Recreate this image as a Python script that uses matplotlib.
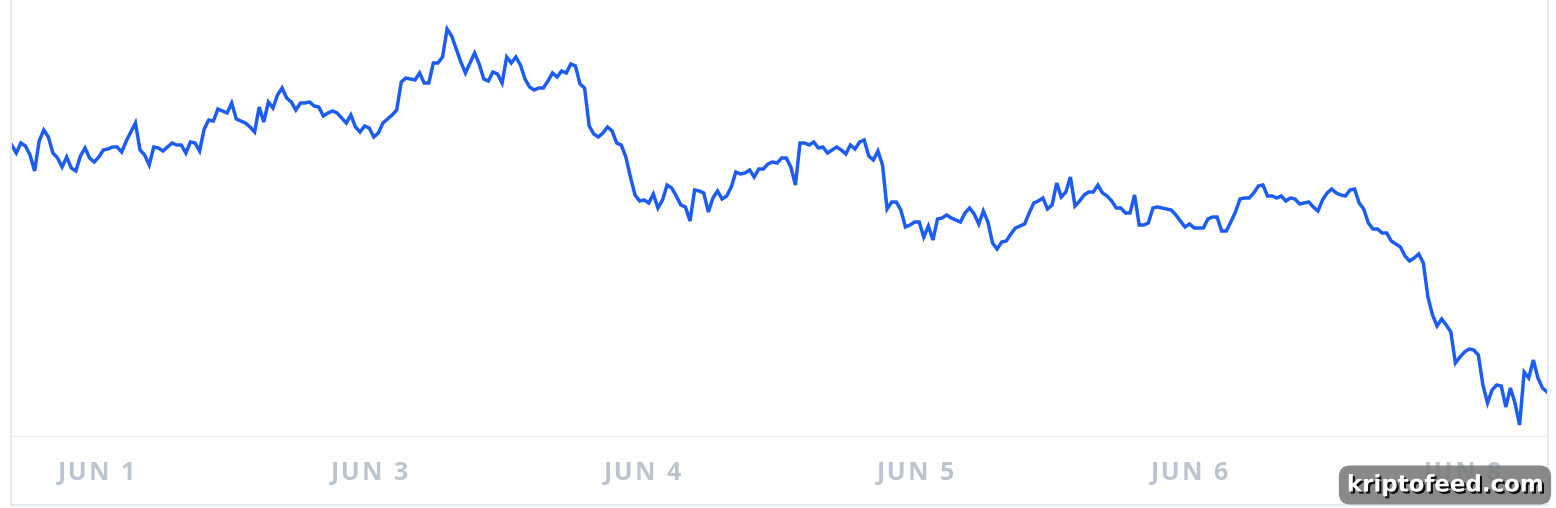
import numpy as np
import matplotlib
matplotlib.use("Agg")
import matplotlib.pyplot as plt
import matplotlib.patheffects as pe

# prezzo (unita' relative), un punto ogni intervallo
prezzo = [
    292, 284, 294, 291, 282, 266, 296, 307, 300, 284, 279, 270, 280, 269, 266, 281,
    289, 279, 275, 280, 287, 288, 290, 290, 285, 296, 305, 314, 287, 282, 272, 290,
    289, 286, 290, 294, 292, 292, 284, 295, 294, 286, 308, 317, 316, 328, 326, 324,
    334, 318, 316, 314, 310, 305, 330, 315,
    335, 329, 342, 349, 339, 335, 327, 334, 334, 335, 331, 330, 321, 324, 326, 324,
    319, 314, 322, 310, 305, 311, 309, 300, 304, 314, 318, 322, 327, 355, 359, 358,
    357, 364, 354, 354, 374, 374, 380, 408, 401, 388, 375, 364, 374, 384, 373, 358,
    356, 365, 363, 354, 380, 374, 380, 372,
    358, 350, 347, 349, 349, 356, 364, 360, 366, 364, 373, 371, 353, 349, 311, 303,
    300, 304, 310, 306, 294, 292, 280, 260, 242, 236, 237, 234, 243, 229, 237, 252,
    249, 241, 232, 230, 216, 247, 246, 244, 225, 239, 246, 238, 241, 250, 265, 263,
    264, 267, 260, 268, 268,
    273, 275, 274, 279, 279, 270, 252, 294, 294, 292, 295, 289, 290, 284, 287, 290,
    287, 283, 292, 288, 295, 297, 281, 277, 286, 272, 228, 235, 235, 227, 210, 212,
    215, 215, 200, 211, 197, 218, 219, 222, 219, 217, 215, 224, 229, 223, 213, 226,
    215, 194, 188, 195, 196,
    203, 209, 211, 213, 224, 234, 236, 239, 228, 232, 254, 240, 245, 260, 231, 236,
    242, 245, 245, 252, 244, 241, 236, 229, 229, 224, 224, 242, 212, 212, 214, 229,
    230, 229, 228, 227, 222, 216, 210, 213, 209, 209, 209, 218, 220, 220, 206, 206,
    215, 225, 238, 239, 239, 244, 251,
    252, 241, 241, 239, 241, 236, 239, 238, 233, 234, 235, 230, 226, 237, 244, 248,
    244, 242, 241, 247, 248, 234, 228, 214, 208, 208, 204, 204, 196, 193, 190, 181,
    176, 179, 183, 174, 140, 122, 111, 118, 112, 105, 74, 80, 85, 88, 87, 82,
    52, 34, 47, 52, 51, 30, 49, 34, 12, 65, 59, 77, 59, 49, 45,
]

etichette = ["JUN 1", "JUN 3", "JUN 4", "JUN 5", "JUN 6", "JUN 8"]
pos_etichette = [18.6, 78.2, 137.8, 197.4, 257.0, 316.6]

BLU = "#1d5cf0"
GRIGIO_LINEA = "#e7eaee"
GRIGIO_TESTO = "#bcc5cf"

W, H = 1556, 508
fig = plt.figure(figsize=(W / 100, H / 100), dpi=100)
fig.patch.set_facecolor("white")

# area del grafico
ax = fig.add_axes([11 / W, (H - 437) / H, 1537 / W, 437 / H])
x = np.arange(len(prezzo))
ax.plot(x, prezzo, color=BLU, lw=2.5, solid_joinstyle="miter")
ax.set_xlim(-0.15, 335.2)
ax.set_ylim(0, 437)
ax.set_yticks([])
ax.set_xticks([])
for s in ["left", "right", "bottom"]:
    ax.spines[s].set_color(GRIGIO_LINEA)
    ax.spines[s].set_linewidth(1.5)
ax.spines["top"].set_visible(False)

# fascia delle date
ax2 = fig.add_axes([11 / W, 3 / H, 1537 / W, 68 / H])
ax2.set_xlim(ax.get_xlim())
ax2.set_ylim(0, 1)
ax2.set_yticks([])
ax2.set_xticks([])
for s in ["left", "right", "bottom"]:
    ax2.spines[s].set_color(GRIGIO_LINEA)
    ax2.spines[s].set_linewidth(1.5)
ax2.spines["top"].set_visible(False)
for p, t in zip(pos_etichette, etichette):
    spaziato = "\u200a".join(t)  # un po' di spaziatura tra le lettere
    ax2.text(p, 0.47, spaziato, ha="center", va="center", fontsize=18,
             family=["Open Sans", "DejaVu Sans"], fontweight="bold", color=GRIGIO_TESTO)

# watermark
fig.text(1445 / W, 1 - 485 / H, "kriptofeed.com", ha="center", va="center",
         fontsize=16.5, fontweight="bold", family="DejaVu Sans", color="white",
         path_effects=[pe.SimplePatchShadow(offset=(1.5, -1.5), shadow_rgbFace="black", alpha=0.9),
                       pe.Normal()],
         bbox=dict(boxstyle="round,pad=0.35,rounding_size=0.5", fc="#7c7c7c", ec="none", alpha=0.9))

fig.savefig("out.png", dpi=100)
